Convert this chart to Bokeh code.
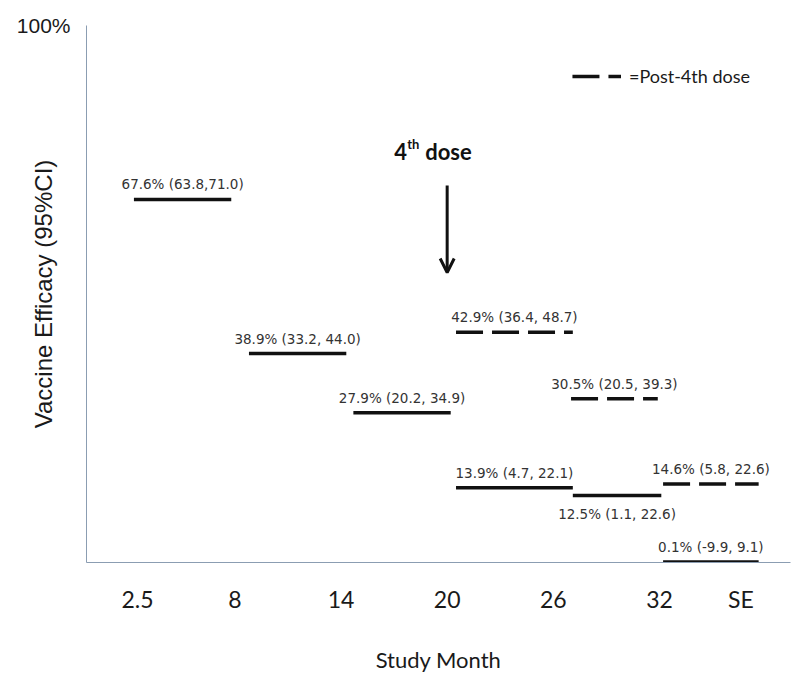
from bokeh.plotting import figure
from bokeh.models import (ColumnDataSource, Range1d, FixedTicker, Label, Arrow,
                          OpenHead, Legend, LegendItem)
from bokeh.core.properties import value
from bokeh.embed import file_html
from bokeh.resources import INLINE

# Study month axis
tick_months = [2.5, 8, 14, 20, 26, 32, 36.6]
tick_labels = ["2.5", "8", "14", "20", "26", "32", "SE"]

# Vaccine efficacy over each interval, 3 doses (solid bars)
ve = [67.6, 38.9, 27.9, 13.9, 12.5, 0.1]
ve_lo = [63.8, 33.2, 20.2, 4.7, 1.1, -9.9]
ve_hi = [71.0, 44.0, 34.9, 22.1, 22.6, 9.1]
start = [2.3, 8.8, 14.7, 20.5, 27.1, 32.2]
end = [7.8, 14.3, 20.2, 27.1, 32.1, 37.6]

# Vaccine efficacy after the 4th dose (dashed bars)
ve4 = [42.9, 30.5, 14.6]
ve4_lo = [36.4, 20.5, 5.8]
ve4_hi = [48.7, 39.3, 22.6]
start4 = [20.5, 27.0, 32.2]
end4 = [27.1, 31.9, 37.6]

dose4_month = 20

AXIS = "#8b9db2"
INK = "#111111"
TXT = "#333333"
BAR_W = 3.5
DASH = "27 9"


def fmt(v, lo, hi, tight=False):
    sep = "," if tight else ", "
    return f"{v:.1f}% ({lo:.1f}{sep}{hi:.1f})"


labels = [fmt(v, l, h, tight=(i == 0)) for i, (v, l, h) in enumerate(zip(ve, ve_lo, ve_hi))]
labels4 = [fmt(v, l, h) for v, l, h in zip(ve4, ve4_lo, ve4_hi)]

# labels sit above their bar; the 26-32 estimate goes underneath to clear its neighbour
offs = [-15 if v != 12.5 else 19 for v in ve]

src = ColumnDataSource(dict(x0=start, x1=end, y=ve, text=labels,
                            xm=[(a + b) / 2 for a, b in zip(start, end)], off=offs))
src4 = ColumnDataSource(dict(x0=start4, x1=end4, y=ve4, text=labels4,
                             xm=[(a + b) / 2 for a, b in zip(start4, end4)],
                             off=[-15] * len(ve4)))

p = figure(width=795, height=675, output_backend="svg", toolbar_location=None,
           x_range=Range1d(-0.38, 39.4), y_range=Range1d(0, 100),
           min_border_left=86, min_border_right=5, min_border_top=25,
           min_border_bottom=107)
p.outline_line_color = None
p.xgrid.visible = False
p.ygrid.visible = False
p.background_fill_color = "white"

# x axis
xa = p.xaxis[0]
xa.ticker = FixedTicker(ticks=tick_months)
xa.major_label_overrides = {m: t for m, t in zip(tick_months, tick_labels)}
xa.major_tick_line_color = None
xa.minor_tick_line_color = None
xa.major_tick_out = 0
xa.major_tick_in = 0
xa.axis_line_color = AXIS
xa.major_label_standoff = 22
xa.major_label_text_font = "Lato"
xa.major_label_text_font_size = "23px"
xa.major_label_text_color = "#1a1a1a"
xa.axis_label = "Study Month"
xa.axis_label_text_font = "Lato"
xa.axis_label_text_font_style = "normal"
xa.axis_label_text_font_size = "22px"
xa.axis_label_text_color = "#1a1a1a"
xa.axis_label_standoff = 30

# y axis: only the 100% mark is labelled; the title tucks in under it
ya = p.yaxis[0]
ya.ticker = FixedTicker(ticks=[100])
ya.major_label_overrides = {100: "100%"}
ya.major_tick_line_color = None
ya.major_tick_out = 0
ya.major_tick_in = 0
ya.major_label_standoff = 16
ya.major_label_text_font = "Liberation Sans"
ya.major_label_text_font_size = "21px"
ya.major_label_text_color = "#1a1a1a"
ya.minor_tick_line_color = None
ya.axis_line_color = AXIS
ya.axis_label = "Vaccine Efficacy (95%CI)"
ya.axis_label_text_font = "Liberation Sans"
ya.axis_label_text_font_style = "normal"
ya.axis_label_text_font_size = "24px"
ya.axis_label_text_color = "#1a1a1a"
ya.axis_label_standoff = -43

# bars
p.segment(x0="x0", y0="y", x1="x1", y1="y", source=src, line_color=INK,
          line_width=BAR_W, line_cap="butt")
r4 = p.segment(x0="x0", y0="y", x1="x1", y1="y", source=src4, line_color=INK,
               line_width=BAR_W, line_dash=DASH, line_cap="butt")

for s in (src, src4):
    p.text(x="xm", y="y", text="text", source=s, y_offset="off",
           text_align="center", text_baseline="middle",
           text_font=value("DejaVu Sans"), text_font_size="13.5px", text_color=TXT)

# 4th dose marker
p.add_layout(Arrow(x_start=dose4_month, y_start=70.2, x_end=dose4_month, y_end=54.0,
                   line_color=INK, line_width=3,
                   end=OpenHead(size=14, line_width=3, line_color=INK)))
bold = dict(text_font="Lato", text_font_style="bold", text_color="#111111",
            text_baseline="alphabetic", text_align="left")
p.add_layout(Label(x=dose4_month, y=76.5, x_offset=-53, text="4",
                   text_font_size="22px", **bold))
p.add_layout(Label(x=dose4_month, y=76.5, x_offset=-40, y_offset=8, text="th",
                   text_font_size="13px", **bold))
p.add_layout(Label(x=dose4_month, y=76.5, x_offset=-22, text="dose",
                   text_font_size="22px", **bold))

legend = Legend(items=[LegendItem(label="=Post-4th dose", renderers=[r4])],
                location="top_right", margin=40, padding=0,
                glyph_width=49, glyph_height=20, label_standoff=8,
                label_text_font="Lato", label_text_font_size="18px",
                label_text_color="#1a1a1a", border_line_color=None,
                background_fill_alpha=0)
p.add_layout(legend)

open("out.html", "w").write(file_html(p, INLINE))
